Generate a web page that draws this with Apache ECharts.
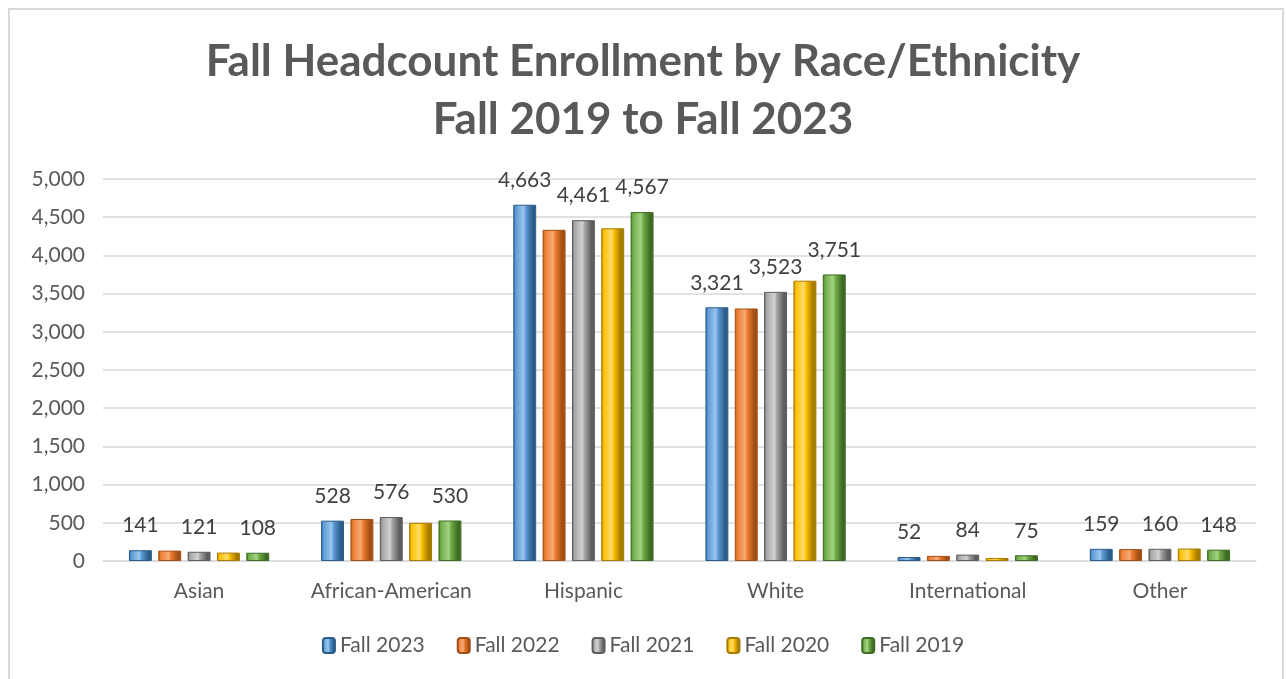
<!DOCTYPE html>
<html>
<head>
<meta charset="utf-8">
<script src="https://cdn.jsdelivr.net/npm/echarts@6/dist/echarts.min.js"></script>
<style>
  body { margin: 0; background: #fff; }
  #chart { position: absolute; left: 0; top: 0; width: 1286px; height: 679px; }
  #frame { position: absolute; left: 8px; top: 8px; width: 1272px; height: 700px;
           border: 2px solid #d9d9d9; pointer-events: none; }
</style>
</head>
<body>
<div id="chart"></div>
<div id="frame"></div>
<script>
const categories = ['Asian', 'African-American', 'Hispanic', 'White', 'International', 'Other'];
const seriesNames = ['Fall 2023', 'Fall 2022', 'Fall 2021', 'Fall 2020', 'Fall 2019'];
const fall2023 = [141, 528, 4663, 3321, 52, 159];
const fall2022 = [136, 550, 4335, 3305, 67, 156];
const fall2021 = [121, 576, 4461, 3523, 84, 160];
const fall2020 = [110, 500, 4355, 3669, 40, 163];
const fall2019 = [108, 530, 4567, 3751, 75, 148];
const seriesData = [fall2023, fall2022, fall2021, fall2020, fall2019];
// labels were only kept on every other series in the original
const showLabel = [true, false, true, false, true];

// [dark, base, light]
const palette = [
  ['#2c5d8a', '#5b9bd5', '#9cc6ec'],
  ['#a24f16', '#ed7d31', '#f5ab78'],
  ['#5e5e5e', '#a5a5a5', '#d2d2d2'],
  ['#a67c00', '#ffc000', '#ffdc70'],
  ['#3f6b24', '#70ad47', '#a4d283']
];

const bevel = (c) => new echarts.graphic.LinearGradient(0, 0, 1, 0, [
  {offset: 0, color: c[0]},
  {offset: 0.1, color: c[1]},
  {offset: 0.45, color: c[2]},
  {offset: 0.55, color: c[1]},
  {offset: 0.85, color: c[0]},
  {offset: 1, color: c[0]}
]);

const chart = echarts.init(document.getElementById('chart'));
const font = 'Lato, "Open Sans", sans-serif';

chart.setOption({
  animation: false,
  title: {
    text: 'Fall Headcount Enrollment by Race/Ethnicity\nFall 2019 to Fall 2023',
    left: 'center',
    top: 28,
    textStyle: {
      fontFamily: font,
      fontWeight: 'bold',
      fontSize: 44,
      lineHeight: 58,
      color: '#595959'
    }
  },
  legend: {
    data: seriesNames,
    bottom: 18,
    left: 'center',
    itemWidth: 12,
    itemHeight: 15,
    itemGap: 32,
    textStyle: {fontFamily: font, fontSize: 21, color: '#595959'}
  },
  grid: {left: 103, right: 30, top: 179, bottom: 118},
  xAxis: {
    type: 'category',
    data: categories,
    axisLine: {lineStyle: {color: '#d9d9d9', width: 1.5}},
    axisTick: {show: false},
    axisLabel: {interval: 0, fontFamily: font, fontSize: 21, color: '#595959', margin: 20}
  },
  yAxis: {
    type: 'value',
    min: 0,
    max: 5000,
    interval: 500,
    axisLine: {show: false},
    axisTick: {show: false},
    splitLine: {lineStyle: {color: '#d9d9d9', width: 1.5}},
    axisLabel: {
      fontFamily: font, fontSize: 21, color: '#595959', margin: 18,
      formatter: (v) => v.toLocaleString('en-US')
    }
  },
  series: seriesData.map((d, i) => ({
    name: seriesNames[i],
    type: 'bar',
    data: d,
    barGap: '28%',
    barCategoryGap: '27%',
    itemStyle: {color: bevel(palette[i]), borderColor: palette[i][0], borderWidth: 1},
    label: {
      show: showLabel[i],
      position: 'top',
      distance: 14,
      fontFamily: font,
      fontSize: 21,
      color: '#404040',
      formatter: (p) => p.value.toLocaleString('en-US')
    }
  }))
});
</script>
</body>
</html>
